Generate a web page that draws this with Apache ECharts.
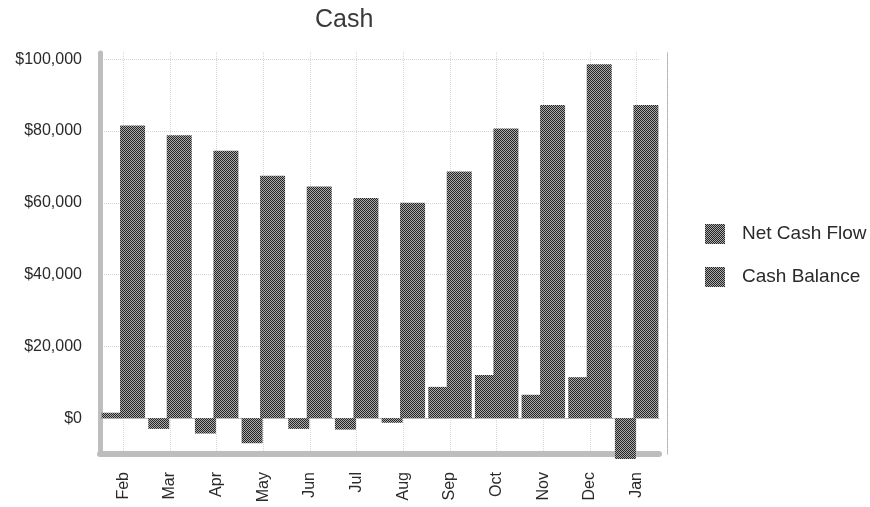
<!DOCTYPE html>
<html>
<head>
<meta charset="utf-8">
<script src="https://cdn.jsdelivr.net/npm/echarts@6/dist/echarts.min.js"></script>
<style>
html,body{margin:0;padding:0;background:#fff;}
#chart{width:870px;height:507px;}
</style>
</head>
<body>
<div id="chart"></div>
<script>
const months = ['Feb','Mar','Apr','May','Jun','Jul','Aug','Sep','Oct','Nov','Dec','Jan'];
const netCashFlow = [1500, -3000, -4300, -7000, -3000, -3200, -1300, 8700, 12000, 6500, 11400, -11400];
const cashBalance = [81500, 78800, 74500, 67500, 64500, 61300, 60000, 68700, 80700, 87200, 98600, 87200];
const yTickValues = [0, 20000, 40000, 60000, 80000, 100000];

function makePattern(dark, light) {
  const c = document.createElement('canvas');
  c.width = 2; c.height = 2;
  const g = c.getContext('2d');
  g.fillStyle = light; g.fillRect(0, 0, 2, 2);
  g.fillStyle = dark; g.fillRect(0, 0, 1, 1); g.fillRect(1, 1, 1, 1);
  return c;
}
const pat = makePattern('#242424', '#ababab');

const Y_MIN = -10000, Y_MAX = 102000, Y_STEP = 1000;
const gridColors = [];
for (let i = 0; i < 20; i++) gridColors.push(i === 10 ? '#d2d2d2' : 'rgba(0,0,0,0)');
const FONT = 'Liberation Sans, Arial, sans-serif';

const chart = echarts.init(document.getElementById('chart'), null, {renderer: 'canvas'});
chart.setOption({
  animation: false,
  textStyle: {fontFamily: FONT},
  title: {
    text: 'Cash', left: 310, top: 3,
    textStyle: {fontSize: 25, fontWeight: 'normal', color: '#3a3a3a', fontFamily: FONT}
  },
  legend: {
    orient: 'vertical', left: 700, top: 219,
    itemWidth: 20, itemHeight: 20, itemGap: 23,
    icon: 'rect',
    textStyle: {fontSize: 19, color: '#2a2a2a', padding: [0, 0, 0, 12], fontFamily: FONT},
    data: ['Net Cash Flow', 'Cash Balance']
  },
  grid: {left: 100, right: 210, top: 52, bottom: 53, containLabel: false},
  xAxis: [
    {
      type: 'category', data: months, position: 'bottom',
      axisLine: {show: true, onZero: false, lineStyle: {color: '#bdbdbd', width: 6, type: [1, 1]}},
      axisTick: {show: false},
      splitLine: {show: false},
      axisLabel: {rotate: 90, margin: 18, fontSize: 16, color: '#2a2a2a', fontFamily: FONT}
    },
    {
      type: 'value', position: 'top', min: -0.5, max: 11.5, interval: 0.5,
      axisLine: {show: true, lineStyle: {color: '#aaa', width: 1, type: 'dotted'}},
      axisTick: {show: false}, axisLabel: {show: false},
      splitLine: {show: true, lineStyle: {color: ['rgba(0,0,0,0)', '#d8d8d8'], type: 'dotted', width: 1}}
    }
  ],
  yAxis: [
    {
      type: 'value', min: Y_MIN, max: Y_MAX, interval: Y_STEP, position: 'left',
      axisLine: {show: true, onZero: false, lineStyle: {color: '#bdbdbd', width: 5, type: [1, 1]}},
      axisTick: {show: false},
      axisLabel: {
        margin: 18, fontSize: 16, color: '#2a2a2a', fontFamily: FONT,
        formatter: function (v) {
          if (yTickValues.indexOf(v) < 0) return '';
          return '$' + v.toLocaleString('en-US');
        }
      },
      splitLine: {show: true, lineStyle: {color: gridColors, type: 'dotted', width: 1}}
    },
    {
      type: 'value', min: Y_MIN, max: Y_MAX, interval: 10000, position: 'right', offset: 7,
      axisLine: {show: true, onZero: false, lineStyle: {color: '#aaa', width: 1, type: 'dotted'}},
      axisTick: {show: false}, axisLabel: {show: false}, splitLine: {show: false}
    }
  ],
  series: [
    {
      name: 'Net Cash Flow', type: 'bar', xAxisIndex: 0, yAxisIndex: 0,
      data: netCashFlow, barWidth: 21, barGap: '-12%', clip: false,
      itemStyle: {color: {image: pat, repeat: 'repeat'}}
    },
    {
      name: 'Cash Balance', type: 'bar', xAxisIndex: 0, yAxisIndex: 0,
      data: cashBalance, barWidth: 25, barGap: '-12%', clip: false,
      itemStyle: {color: {image: pat, repeat: 'repeat'}}
    }
  ]
});
</script>
</body>
</html>
